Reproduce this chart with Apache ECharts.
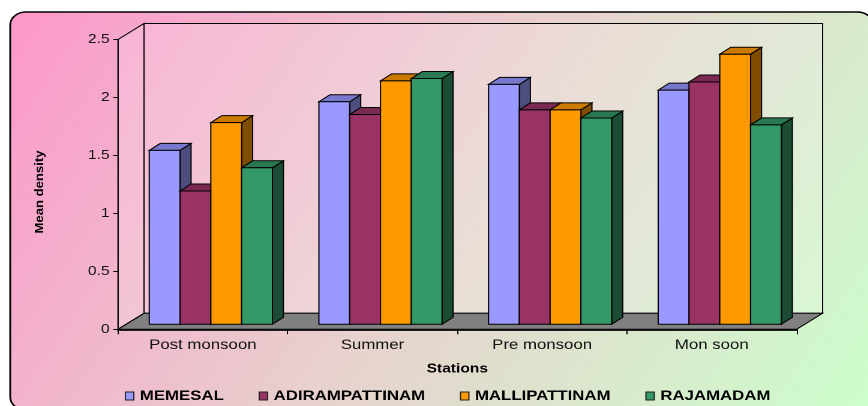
<!DOCTYPE html>
<html><head><meta charset="utf-8">
<script src="https://cdn.jsdelivr.net/npm/echarts@6/dist/echarts.min.js"></script>
<style>
html,body{margin:0;padding:0;background:#fff;overflow:hidden}
#wrap{width:868px;height:406px;overflow:hidden;position:relative}
#c{width:723.333px;height:406px;transform:scaleX(1.2);transform-origin:0 0}
</style>
</head><body><div id="wrap"><div id="c"></div></div>
<script>
// ---- data ----
const categories = ['Post monsoon', 'Summer', 'Pre monsoon', 'Mon soon'];
const stations = ['MEMESAL', 'ADIRAMPATTINAM', 'MALLIPATTINAM', 'RAJAMADAM'];
const memesal = [1.50, 1.92, 2.07, 2.02];
const adirampattinam = [1.15, 1.81, 1.85, 2.09];
const mallipattinam = [1.74, 2.10, 1.85, 2.33];
const rajamadam = [1.35, 2.12, 1.78, 1.72];
const yTickLabels = ['0', '0.5', '1', '1.5', '2', '2.5'];
const xAxisTitle = 'Stations';
const yAxisTitle = 'Mean density';

// ---- styles ----
const frontColors = ['#9999FF', '#993366', '#FF9900', '#339966'];
const topColors = ['#7777CC', '#7A2952', '#CC7A00', '#297A52'];
const sideColors = ['#4D4D80', '#4D1A33', '#804D00', '#1A4D33'];
const FONT = '"Liberation Sans", Arial, sans-serif';
const WDX = 21.67, WDY = -16;     // wall depth
const DX = 6.67, DY = -5;         // bar placement depth
const DDX = 9.17, DDY = -7;       // bar thickness
const BAR_FRAC = 0.1815;

const seriesValues = [memesal, adirampattinam, mallipattinam, rajamadam];

function barRender(s) {
  return function (params, api) {
    const cat = api.value(0), v = api.value(1);
    const base = api.coord([cat, 0]);
    const top = api.coord([cat, v]);
    const band = api.size([1, 0])[0];
    const bw = band * BAR_FRAC;
    const x0 = base[0] - 2 * bw + s * bw + DX;
    const x1 = x0 + bw;
    const yb = base[1] + DY, yt = top[1] + DY;
    const st = (f) => ({ fill: f, stroke: '#000', lineWidth: 1 });
    return {
      type: 'group', children: [
        { type: 'polygon', shape: { points: [[x1, yt], [x1 + DDX, yt + DDY], [x1 + DDX, yb + DDY], [x1, yb]] }, style: st(sideColors[s]) },
        { type: 'polygon', shape: { points: [[x0, yt], [x0 + DDX, yt + DDY], [x1 + DDX, yt + DDY], [x1, yt]] }, style: st(topColors[s]) },
        { type: 'rect', shape: { x: x0, y: yt, width: bw, height: yb - yt }, style: st(frontColors[s]) }
      ]
    };
  };
}

function wallRender(params, api) {
  const cs = params.coordSys;
  const x = cs.x, y = cs.y, w = cs.width, h = cs.height;
  const bx = x + WDX, by = y + WDY;
  const wallFill = 'rgba(255,255,255,0.18)';
  return {
    type: 'group', children: [
      { type: 'polygon', shape: { points: [[x, y], [bx, by], [bx, by + h], [x, y + h]] }, style: { fill: wallFill, stroke: '#000', lineWidth: 1 } },
      { type: 'rect', shape: { x: bx, y: by, width: w, height: h }, style: { fill: wallFill, stroke: '#000', lineWidth: 1 } },
      { type: 'polygon', shape: { points: [[x, y + h], [bx, by + h], [bx + w, by + h], [x + w, y + h]] }, style: { fill: '#808080', stroke: '#000', lineWidth: 1 } }
    ]
  };
}

const series = [{
  type: 'custom', name: 'walls', silent: true, renderItem: wallRender,
  data: [[0, 0]], z: 1
}];
stations.forEach((name, s) => {
  series.push({
    type: 'custom', name: name, renderItem: barRender(s),
    itemStyle: { color: frontColors[s] },
    data: seriesValues[s].map((v, i) => [i, v]), z: 3 + s
  });
});

const chart = echarts.init(document.getElementById('c'), null, { renderer: 'canvas', devicePixelRatio: 2 });
chart.setOption({
  animation: false,
  graphic: [
    {
      type: 'rect', z: -10, silent: true,
      shape: { x: 8.5, y: 12, width: 719, height: 398, r: 13 },
      style: {
        fill: { type: 'linear', x: 0, y: 0, x2: 1, y2: 1, colorStops: [
          { offset: 0, color: '#FD98CB' }, { offset: 0.5, color: '#E8D2CE' }, { offset: 1, color: '#CCFFCC' }] },
        stroke: '#000', lineWidth: 1.5
      }
    },
    {
      type: 'text', x: 33.3, y: 192, rotation: Math.PI / 2, scaleX: 1.31, z: 10,
      style: { text: yAxisTitle, fill: '#000', font: 'bold 10px ' + FONT, align: 'center', verticalAlign: 'middle', textAlign: 'center', textVerticalAlign: 'middle' }
    }
  ],
  grid: { left: 98.33, right: 59.17, top: 39.5, bottom: 76.7, containLabel: false },
  legend: {
    data: stations.map(n => ({ name: n, icon: 'rect' })),
    left: 104, top: 389, padding: 0, itemGap: 29, itemWidth: 7, itemHeight: 8,
    itemStyle: { borderColor: '#222', borderWidth: 1 },
    textStyle: { fontFamily: FONT, fontSize: 14, fontWeight: 'bold', color: '#000' },
    selectedMode: false
  },
  xAxis: {
    type: 'category', data: categories,
    name: xAxisTitle, nameLocation: 'middle', nameGap: 33,
    nameTextStyle: { fontFamily: FONT, fontSize: 13, fontWeight: 'bold', color: '#000' },
    axisLine: { lineStyle: { color: '#222', width: 2 } },
    axisTick: { show: true, alignWithLabel: false, length: 5, lineStyle: { color: '#000' } },
    axisLabel: { fontFamily: FONT, fontSize: 14, color: '#111', margin: 9 },
    splitLine: { show: false }
  },
  yAxis: {
    type: 'value', min: 0, max: 2.5, interval: 0.5,
    axisLine: { show: true, lineStyle: { color: '#000', width: 1 } },
    axisTick: { show: true, length: 4, lineStyle: { color: '#000' } },
    axisLabel: { fontFamily: FONT, fontSize: 13, color: '#111', margin: 7,
      formatter: (v) => yTickLabels[Math.round(v / 0.5)] },
    splitLine: { show: false }
  },
  series: series
});
</script>
</body></html>
